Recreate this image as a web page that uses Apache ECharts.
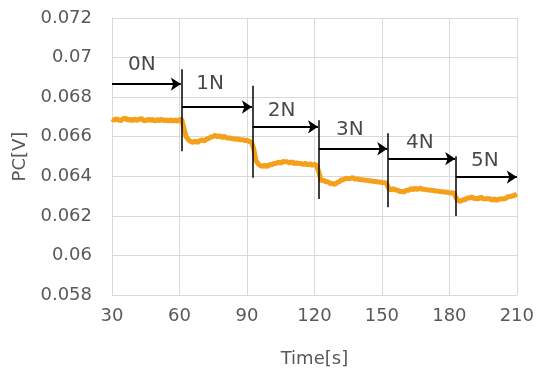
<!DOCTYPE html>
<html>
<head>
<meta charset="utf-8">
<script src="https://cdn.jsdelivr.net/npm/echarts@6/dist/echarts.min.js"></script>
<style>
html,body{margin:0;padding:0;background:#fff;}
#chart{width:537px;height:373px;}
</style>
</head>
<body>
<div id="chart"></div>
<script>
// Sample times (s), one sample per second from 30 to 210
var startTime = 30;
// PC voltage [V] per second
var pcValues = [
  0.06690,0.06682,0.06692,0.06684,0.06681,0.06691,0.06694,0.06683,0.06689,0.06681,
  0.06690,0.06682,0.06688,0.06692,0.06683,0.06680,0.06689,0.06682,0.06688,0.06679,
  0.06687,0.06681,0.06689,0.06680,0.06686,0.06678,0.06686,0.06679,0.06685,0.06678,
  0.06686,0.06688,
  0.06640,0.06600,0.06584,0.06576,0.06571,0.06579,0.06570,0.06580,0.06584,0.06578,
  0.06588,0.06591,0.06598,0.06601,0.06607,0.06599,0.06606,0.06596,0.06602,0.06593,
  0.06594,0.06591,0.06590,0.06587,0.06588,0.06584,0.06585,0.06581,0.06582,0.06576,
  0.06573,
  0.06540,0.06480,0.06462,0.06454,0.06450,0.06457,0.06449,0.06458,0.06458,0.06465,
  0.06465,0.06472,0.06466,0.06475,0.06473,0.06473,0.06467,0.06474,0.06465,0.06467,
  0.06466,0.06465,0.06459,0.06466,0.06457,0.06463,0.06455,0.06461,0.06454,
  0.06420,0.06376,0.06382,0.06372,0.06372,0.06364,0.06364,0.06358,0.06368,0.06372,
  0.06382,0.06383,0.06390,0.06388,0.06389,0.06393,0.06386,0.06386,0.06384,0.06383,
  0.06381,0.06380,0.06378,0.06377,0.06375,0.06374,0.06372,0.06371,0.06369,0.06368,
  0.06366,
  0.06340,0.06330,0.06338,0.06331,0.06330,0.06323,0.06323,0.06322,0.06330,0.06330,
  0.06338,0.06332,0.06340,0.06333,0.06341,0.06334,0.06334,0.06332,0.06331,0.06329,
  0.06328,0.06326,0.06325,0.06323,0.06322,0.06320,0.06319,0.06317,0.06316,0.06317,
  0.06290,0.06278,0.06273,0.06282,0.06282,0.06290,0.06290,0.06296,0.06288,0.06288,
  0.06287,0.06295,0.06286,0.06287,0.06287,0.06286,0.06279,0.06287,0.06278,0.06285,
  0.06285,0.06286,0.06288,0.06297,0.06298,0.06300,0.06304,0.06310
];

// Load-step annotations
var loadLabels    = ['0N','1N','2N','3N','4N','5N'];
var boundaryTimes = [61, 92.5, 122, 152.8, 182.9];
var boundaryTop   = [0.06941, 0.06858, 0.06683, 0.06617, 0.06501];
var boundaryBottom= [0.06527, 0.06393, 0.06285, 0.06243, 0.06199];
var arrowStart    = [30, 61, 92.5, 122, 152.8, 182.9];
var arrowEnd      = [60.6, 92.2, 121.6, 152.4, 182.6, 210];
var arrowLevel    = [0.06866, 0.06750, 0.06650, 0.06539, 0.06489, 0.06396];
var labelTime     = [43.3, 73.6, 105.4, 135.8, 166.9, 195.8];
var labelLevel    = [0.06966, 0.06866, 0.06733, 0.06634, 0.06567, 0.06476];

// Axis ticks
var xTicks = [30, 60, 90, 120, 150, 180, 210];
var yTicks = [0.058, 0.06, 0.062, 0.064, 0.066, 0.068, 0.07, 0.072];

var lineData = pcValues.map(function(v, i){ return [startTime + i, v]; });
var vLines = boundaryTimes.map(function(t, i){
  return { coords: [[t, boundaryTop[i]], [t, boundaryBottom[i]]] };
});
var arrows = arrowStart.map(function(s, i){
  return { coords: [[s, arrowLevel[i]], [arrowEnd[i], arrowLevel[i]]] };
});
var labels = loadLabels.map(function(n, i){
  return { name: n, value: [labelTime[i], labelLevel[i]] };
});

var font = 'DejaVu Sans';
var chart = echarts.init(document.getElementById('chart'), null, {renderer: 'canvas'});
chart.setOption({
  animation: false,
  backgroundColor: '#ffffff',
  grid: { left: 112, right: 20, top: 18, bottom: 74, containLabel: false },
  xAxis: {
    type: 'value',
    min: xTicks[0], max: xTicks[xTicks.length - 1], interval: 30,
    name: 'Time[s]', nameLocation: 'middle', nameGap: 55,
    nameTextStyle: { fontFamily: font, fontSize: 18, color: '#595959' },
    axisLine: { show: true, lineStyle: { color: '#d9d9d9', width: 1 } },
    axisTick: { show: false },
    axisLabel: { fontFamily: font, fontSize: 18, color: '#595959', margin: 12 },
    splitLine: { show: true, lineStyle: { color: '#d9d9d9', width: 1 } }
  },
  yAxis: {
    type: 'value',
    min: yTicks[0], max: yTicks[yTicks.length - 1], interval: 0.002,
    name: 'PC[V]', nameLocation: 'middle', nameGap: 79,
    nameTextStyle: { fontFamily: font, fontSize: 18, color: '#595959' },
    axisLine: { show: true, lineStyle: { color: '#d9d9d9', width: 1 } },
    axisTick: { show: false },
    axisLabel: { fontFamily: font, fontSize: 18, color: '#595959', margin: 20,
      formatter: function(v){ return String(parseFloat(v.toFixed(3))); } },
    splitLine: { show: true, lineStyle: { color: '#d9d9d9', width: 1 } }
  },
  series: [
    {
      type: 'line', data: lineData, showSymbol: false, symbol: 'none',
      lineStyle: { color: '#F5A01A', width: 5 }, z: 3
    },
    {
      type: 'lines', coordinateSystem: 'cartesian2d', data: vLines,
      symbol: ['none','none'],
      lineStyle: { color: '#000000', width: 1.5, opacity: 1 }, z: 4
    },
    {
      type: 'lines', coordinateSystem: 'cartesian2d', data: arrows,
      symbol: ['none','arrow'], symbolSize: 10,
      lineStyle: { color: '#000000', width: 2, opacity: 1 }, z: 4
    },
    {
      type: 'scatter', data: labels, symbolSize: 0, z: 5,
      label: { show: true, position: 'inside', formatter: '{b}',
        fontFamily: font, fontSize: 20, color: '#1a1a1a' }
    }
  ]
});
</script>
</body>
</html>
